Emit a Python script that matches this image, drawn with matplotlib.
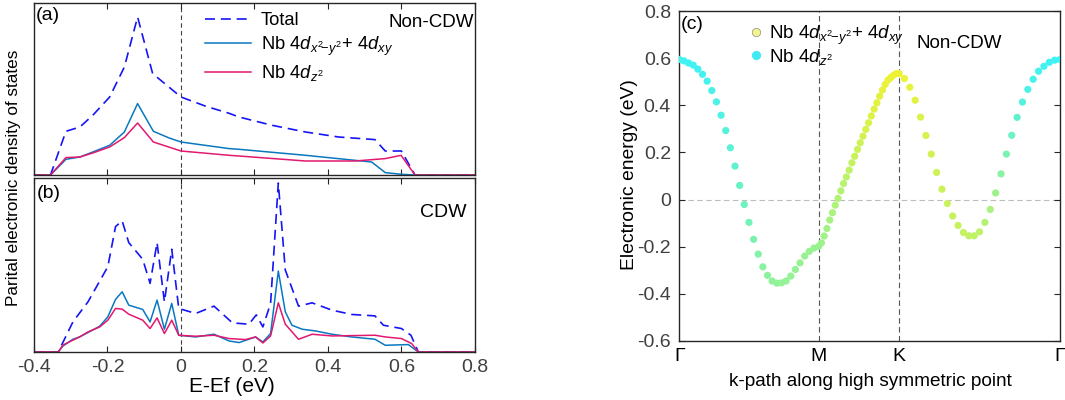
import numpy as np
import matplotlib.pyplot as plt
from matplotlib.colors import LinearSegmentedColormap
from matplotlib.lines import Line2D

plt.rcParams['font.family'] = ['Liberation Sans', 'DejaVu Sans']
plt.rcParams['mathtext.fontset'] = 'custom'
plt.rcParams['mathtext.rm'] = 'Liberation Sans'
plt.rcParams['mathtext.it'] = 'Liberation Sans:italic'
plt.rcParams['axes.unicode_minus'] = False
plt.rcParams['font.size'] = 13.5

# ---- PDOS, panel (a) non-CDW
Ea_tot = [-0.4, -0.355, -0.313, -0.275, -0.24, -0.194, -0.154, -0.118, -0.077, 0.0, 0.068,
          0.131, 0.158, 0.248, 0.339, 0.429, 0.528, 0.556, 0.6, 0.637, 0.8]
Da_tot = [0, 0, 43.7, 48, 59.7, 78, 108, 158, 101.4, 78, 68.7,
          61.7, 58, 49.7, 43, 38, 35.4, 24, 24, 0, 0]
Ea_xy = [-0.4, -0.355, -0.313, -0.275, -0.24, -0.194, -0.154, -0.118, -0.075, -0.032, 0.0,
         0.131, 0.158, 0.339, 0.465, 0.519, 0.556, 0.6, 0.637, 0.8]
Da_xy = [0, 0, 15.7, 18, 23, 29.7, 43, 71.4, 43.7, 37, 33,
         26.4, 25.7, 19.7, 15, 13, 2.4, 0.7, 0, 0]
Ea_z2 = [-0.4, -0.355, -0.313, -0.275, -0.24, -0.194, -0.154, -0.118, -0.075, 0.0,
         0.131, 0.158, 0.339, 0.474, 0.556, 0.599, 0.637, 0.8]
Da_z2 = [0, 0, 17.4, 18, 22, 28, 37.4, 52, 33, 24,
         19.7, 19, 14, 14, 16.4, 19.7, 0, 0]

# ---- PDOS, panel (b) CDW
Eb_tot = [-0.4, -0.334, -0.294, -0.253, -0.199, -0.178, -0.16, -0.142, -0.104, -0.084, -0.065,
          -0.045, -0.025, -0.006, 0.04, 0.09, 0.14, 0.185, 0.205, 0.223, 0.244, 0.265, 0.284,
          0.32, 0.357, 0.411, 0.465, 0.528, 0.551, 0.6, 0.626, 0.646, 0.8]
Db_tot = [0, 0, 30, 50, 85, 125, 130.7, 109, 92.4, 68.4, 109,
          50, 102.4, 43.4, 38.4, 45.7, 29, 27.7, 37, 25, 48.4, 168.4, 81.7,
          45.7, 49, 41.7, 37.4, 36, 26.7, 23.4, 16.7, 0, 0]
Eb_xy = [-0.4, -0.334, -0.321, -0.294, -0.276, -0.253, -0.221, -0.199, -0.178, -0.16, -0.142,
         -0.104, -0.084, -0.065, -0.045, -0.025, -0.006, 0.04, 0.09, 0.131, 0.158, 0.203, 0.223,
         0.244, 0.265, 0.284, 0.302, 0.33, 0.366, 0.411, 0.465, 0.528, 0.556, 0.619, 0.646, 0.8]
Db_xy = [0, 0, 6, 12.7, 15, 19.4, 25.7, 35, 52.4, 60, 46.7,
         42.4, 30, 51.7, 22.7, 48.4, 16.7, 15, 17.7, 11, 9.4, 15, 10,
         18.4, 80.7, 40, 26.7, 22.7, 21, 17.7, 15, 12.7, 6.7, 7.4, 0, 0]
Eb_z2 = [-0.4, -0.334, -0.321, -0.276, -0.253, -0.221, -0.199, -0.178, -0.16, -0.142, -0.104,
         -0.084, -0.065, -0.045, -0.025, -0.006, 0.04, 0.09, 0.131, 0.176, 0.203, 0.223, 0.244,
         0.265, 0.284, 0.32, 0.357, 0.411, 0.528, 0.556, 0.6, 0.628, 0.646, 0.8]
Db_z2 = [0, 0, 7, 15, 20, 25, 31.7, 43.4, 42.7, 37.7, 31.7,
         23.4, 34, 18.4, 31.7, 16.7, 15.7, 16.7, 13.4, 12.4, 15, 9, 16,
         49, 27.7, 12.7, 17.7, 16, 16.7, 15, 13.4, 8.4, 0, 0]

e_ticks = [-0.4, -0.2, 0, 0.2, 0.4, 0.6, 0.8]
e_labels = ['-0.4', '-0.2', '0', '0.2', '0.4', '0.6', '0.8']

# ---- band, panel (c)
kpts = [0, 0.5774, 0.9107, 1.5774]
klabels = ['Γ', 'M', 'K', 'Γ']
band_GM = [0.595, 0.589, 0.580, 0.571, 0.554, 0.532, 0.503, 0.463, 0.415, 0.358, 0.293,
           0.220, 0.142, 0.060, -0.021, -0.097, -0.169, -0.232, -0.286, -0.322, -0.346,
           -0.355, -0.354, -0.346, -0.325, -0.297, -0.269, -0.240, -0.220, -0.206, -0.199]
band_MK = [-0.184, -0.155, -0.123, -0.087, -0.056, -0.024, 0.005, 0.037, 0.068, 0.096,
           0.125, 0.156, 0.184, 0.213, 0.241, 0.269, 0.298, 0.326, 0.355, 0.384,
           0.411, 0.439, 0.465, 0.489, 0.507, 0.518, 0.528, 0.535, 0.535]
band_KG = [0.514, 0.477, 0.422, 0.350, 0.272, 0.193, 0.115, 0.044, -0.017, -0.070,
           -0.110, -0.140, -0.154, -0.154, -0.137, -0.097, -0.042, 0.028, 0.109, 0.193,
           0.273, 0.349, 0.414, 0.468, 0.511, 0.545, 0.566, 0.583, 0.592, 0.595]
# weight of dx2-y2 + dxy (0 = pure dz2)
w_GM = [0, 0, 0, 0, 0, 0.02, 0.03, 0.05, 0.07, 0.09, 0.12, 0.15, 0.18, 0.22, 0.26, 0.3,
        0.34, 0.38, 0.41, 0.43, 0.45, 0.46, 0.47, 0.47, 0.48, 0.48, 0.49, 0.49, 0.5, 0.5, 0.5]
w_MK = [0.52, 0.54, 0.56, 0.58, 0.6, 0.62, 0.64, 0.66, 0.68, 0.7, 0.72, 0.74, 0.76, 0.78,
        0.8, 0.82, 0.84, 0.86, 0.88, 0.9, 0.91, 0.92, 0.93, 0.94, 0.95, 0.96, 0.97, 0.98, 0.98]
w_KG = [0.96, 0.93, 0.9, 0.87, 0.84, 0.82, 0.8, 0.78, 0.77, 0.76, 0.75, 0.74, 0.73, 0.72,
        0.7, 0.66, 0.6, 0.52, 0.42, 0.33, 0.25, 0.18, 0.12, 0.08, 0.05, 0.03, 0.01, 0, 0, 0]
E_ticks = [0.8, 0.6, 0.4, 0.2, 0, -0.2, -0.4, -0.6]
E_labels = ['0.8', '0.6', '0.4', '0.2', '0', '-0.2', '-0.4', '-0.6']

c_tot = '#1515F5'
c_xy = '#0A78C0'
c_z2 = '#E3186F'
spine_c = '#262626'
tick_c = '#404040'

fig = plt.figure(figsize=(10.65, 4.0), dpi=100)
axa = fig.add_axes([0.0319, 0.5625, 0.414, 0.43])
axb = fig.add_axes([0.0319, 0.12, 0.414, 0.434])
axc = fig.add_axes([0.6378, 0.148, 0.3575, 0.824])

for ax in (axa, axb, axc):
    for s in ax.spines.values():
        s.set_color(spine_c)
        s.set_linewidth(1.0)

dash = (0, (6, 3.5))
for ax, E1, D1, E2, D2, E3, D3, ytop in [
        (axa, Ea_tot, Da_tot, Ea_xy, Da_xy, Ea_z2, Da_z2, 172),
        (axb, Eb_tot, Db_tot, Eb_xy, Db_xy, Eb_z2, Db_z2, 173)]:
    ax.plot(E1, D1, color=c_tot, lw=1.2, ls=dash, label='Total')
    ax.plot(E2, D2, color=c_xy, lw=1.1, label=r'Nb 4$d_{x^2\!\!-\!y^2}$+ 4$d_{xy}$')
    ax.plot(E3, D3, color=c_z2, lw=1.1, label=r'Nb 4$d_{z^2}$')
    ax.axvline(0, color='#404040', lw=0.8, ls=(0, (4, 3)), zorder=1)
    ax.set_xlim(-0.4, 0.8)
    ax.set_ylim(0, ytop)
    ax.set_xticks(e_ticks)
    ax.set_xticklabels(e_labels, color=tick_c, fontsize=14)
    ax.set_yticks([])
    ax.tick_params(axis='x', direction='in', top=True, length=4, width=0.8,
                   color=spine_c, pad=5)

axa.tick_params(labelbottom=False)
axa.legend(loc='upper left', bbox_to_anchor=(0.388, 0.945), frameon=False, fontsize=13.2,
           handlelength=2.5, handletextpad=0.55, borderaxespad=0, borderpad=0,
           labelspacing=0.28)
axa.text(0.003, 0.93, '(a)', transform=axa.transAxes, ha='left', va='center', fontsize=14)
axa.text(0.997, 0.885, 'Non-CDW', transform=axa.transAxes, ha='right', va='center')
axb.text(0.006, 0.912, '(b)', transform=axb.transAxes, ha='left', va='center', fontsize=14)
axb.text(0.981, 0.803, 'CDW', transform=axb.transAxes, ha='right', va='center', fontsize=14)

fig.text(0.0127, 0.555, 'Parital electronic density of states', rotation=90,
         ha='center', va='center', fontsize=12.3)
fig.text(231.5 / 1065, 1 - 386 / 400, 'E-Ef (eV)', ha='center', va='center', fontsize=15)

# band structure
cmap = LinearSegmentedColormap.from_list('cy', ['#40F2F2', '#F2F230'])
k = np.concatenate([np.linspace(kpts[0], kpts[1], len(band_GM)),
                    np.linspace(kpts[1], kpts[2], len(band_MK) + 1)[1:],
                    np.linspace(kpts[2], kpts[3], len(band_KG) + 1)[1:]])
E = np.concatenate([band_GM, band_MK, band_KG])
w = np.concatenate([w_GM, w_MK, w_KG])

axc.axhline(0, color='#BDBDBD', lw=0.8, ls=(0, (5, 3)), zorder=1)
for kk in kpts[1:3]:
    axc.axvline(kk, color='#555555', lw=0.8, ls=(0, (5, 3)), zorder=1)
axc.scatter(k, E, c=w, cmap=cmap, vmin=0, vmax=1, s=27, linewidths=0, zorder=3)
axc.set_xlim(kpts[0], kpts[-1])
axc.set_ylim(-0.6, 0.8)
axc.set_xticks(kpts)
axc.set_xticklabels(klabels, fontsize=14)
axc.set_yticks(E_ticks)
axc.set_yticklabels(E_labels, color=tick_c, fontsize=14)
axc.tick_params(axis='y', direction='in', right=True, length=4, width=0.8,
                color=spine_c, pad=6)
axc.tick_params(axis='x', direction='in', length=0, pad=5)

h1 = Line2D([], [], ls='none', marker='o', ms=6, mfc='#F4F48A', mec='#9A9A9A', mew=0.6)
h2 = Line2D([], [], ls='none', marker='o', ms=6, mfc='#3FEAF2', mec='#3FEAF2', mew=0.6)
axc.legend([h1, h2], [r'Nb 4$d_{x^2\!\!-\!y^2}$+ 4$d_{xy}$', r'Nb 4$d_{z^2}$'],
           loc='upper left', bbox_to_anchor=(0.184, 0.962), frameon=False,
           handlelength=0.75, handletextpad=0.3, borderaxespad=0, borderpad=0,
           labelspacing=0.0)
axc.text(0.004, 0.96, '(c)', transform=axc.transAxes, ha='left', va='center', fontsize=14)
axc.text(0.624, 0.902, 'Non-CDW', transform=axc.transAxes, ha='left', va='center')

fig.text(870 / 1065, 1 - 382 / 400, 'k-path along high symmetric point',
         ha='center', va='center', fontsize=13.7)
fig.text(630 / 1065, 1 - 175 / 400, 'Electronic energy (eV)', rotation=90,
         ha='center', va='center', fontsize=13.9)

fig.savefig('out.png', dpi=100)
